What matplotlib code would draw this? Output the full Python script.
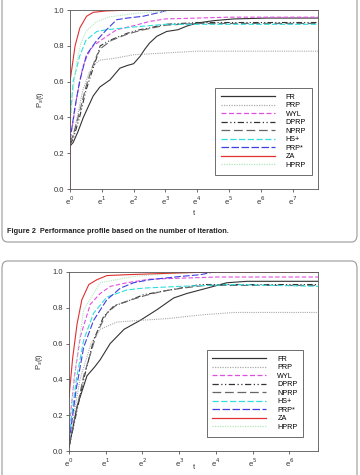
import matplotlib
matplotlib.use("Agg")
import matplotlib.pyplot as plt
from matplotlib.patches import FancyBboxPatch

plt.rcParams['font.family'] = ['Liberation Sans', 'DejaVu Sans']

# ===========================
# Data (x = log t, y = P_s(t))
# ===========================
methods = ['FR', 'PRP', 'WYL', 'DPRP', 'NPRP', 'HS+', 'PRP*', 'ZA', 'HPRP']
xtick_labels_1 = ['e$^{%d}$' % i for i in range(8)]
xtick_labels_2 = ['e$^{%d}$' % i for i in range(7)]
caption = 'Figure 2  Performance profile based on the number of iteration.'

# panel 1
FR1_U = [0, 0.1, 0.25, 0.42, 0.6, 0.73, 0.94, 1.1, 1.26, 1.45, 1.57, 1.8, 2.0, 2.2, 2.35, 2.5, 2.73, 3.04, 3.4, 3.67, 3.99, 4.5, 5.14, 6.2, 7.8]
FR1_P = [0.24, 0.26, 0.32, 0.4, 0.47, 0.52, 0.57, 0.59, 0.61, 0.65, 0.675, 0.69, 0.70, 0.74, 0.78, 0.815, 0.853, 0.88, 0.89, 0.91, 0.927, 0.94, 0.95, 0.955, 0.955]
PRP1_U = [0, 0.1, 0.25, 0.4, 0.6, 0.8, 0.94, 1.4, 2.0, 3.0, 4.0, 5.0, 7.8]
PRP1_P = [0.25, 0.3, 0.42, 0.55, 0.65, 0.70, 0.72, 0.73, 0.75, 0.76, 0.77, 0.77, 0.77]
WYL1_U = [0, 0.1, 0.2, 0.4, 0.55, 0.73, 1.15, 1.47, 2.0, 2.5, 3.0, 4.0, 5.0, 7.8]
WYL1_P = [0.28, 0.38, 0.5, 0.68, 0.75, 0.8, 0.853, 0.89, 0.912, 0.936, 0.95, 0.955, 0.96, 0.96]
DPRP1_U = [0, 0.1, 0.3, 0.5, 0.7, 0.85, 0.95, 1.3, 1.8, 2.2, 2.5, 3.0, 4.0, 7.8]
DPRP1_P = [0.25, 0.28, 0.4, 0.55, 0.66, 0.74, 0.8, 0.834, 0.87, 0.89, 0.9, 0.92, 0.93, 0.93]
NPRP1_U = [0, 0.1, 0.3, 0.5, 0.7, 0.85, 1.0, 1.3, 1.8, 2.2, 2.6, 3.0, 4.0, 7.8]
NPRP1_P = [0.26, 0.3, 0.43, 0.57, 0.68, 0.75, 0.79, 0.83, 0.865, 0.885, 0.9, 0.915, 0.925, 0.925]
HS1_U = [0, 0.1, 0.3, 0.5, 0.84, 1.15, 2.0, 3.0, 7.8]
HS1_P = [0.38, 0.6, 0.74, 0.83, 0.88, 0.89, 0.905, 0.92, 0.92]
PRPS1_U = [0, 0.15, 0.3, 0.52, 0.84, 1.15, 1.47, 1.8, 2.3, 2.73, 3.0, 3.2, 7.8]
PRPS1_P = [0.27, 0.45, 0.6, 0.75, 0.83, 0.89, 0.946, 0.955, 0.965, 0.983, 0.995, 1.0, 1.0]
ZA1_U = [0, 0, 0.16, 0.31, 0.52, 0.73, 1.15, 2.0, 7.8]
ZA1_P = [0.0, 0.6, 0.8, 0.9, 0.965, 0.987, 0.995, 1.0, 1.0]
HPRP1_U = [0, 0.1, 0.2, 0.35, 0.5, 0.8, 1.2, 2.0, 3.0, 3.5, 7.8]
HPRP1_P = [0.35, 0.55, 0.7, 0.82, 0.88, 0.93, 0.96, 0.98, 0.995, 1.0, 1.0]

# panel 2
FR2_U = [0, 0.22, 0.49, 0.7, 0.85, 1.12, 1.5, 1.94, 2.4, 2.85, 3.21, 3.76, 4.3, 4.85, 6.78]
FR2_P = [0.02, 0.25, 0.42, 0.47, 0.51, 0.6, 0.68, 0.73, 0.79, 0.855, 0.88, 0.91, 0.94, 0.948, 0.948]
PRP2_U = [0, 0.3, 0.6, 0.85, 1.3, 1.94, 2.7, 3.58, 4.5, 6.78]
PRP2_P = [0.05, 0.4, 0.6, 0.68, 0.72, 0.73, 0.74, 0.76, 0.774, 0.774]
WYL2_U = [0, 0.15, 0.31, 0.58, 0.85, 1.13, 1.58, 2.2, 3.12, 4.03, 6.78]
WYL2_P = [0.12, 0.42, 0.64, 0.82, 0.88, 0.92, 0.94, 0.96, 0.966, 0.972, 0.972]
DPRP2_U = [0, 0.4, 0.67, 0.94, 1.22, 1.58, 2.03, 2.49, 3.03, 3.58, 6.78]
DPRP2_P = [0.02, 0.4, 0.62, 0.75, 0.81, 0.836, 0.873, 0.89, 0.91, 0.93, 0.93]
NPRP2_U = [0, 0.4, 0.76, 1.03, 1.3, 1.7, 2.1, 2.6, 3.1, 3.7, 6.78]
NPRP2_P = [0.03, 0.42, 0.66, 0.77, 0.817, 0.845, 0.87, 0.895, 0.91, 0.925, 0.925]
HS2_U = [0, 0.2, 0.4, 0.67, 1.03, 1.58, 2.03, 3.03, 4.48, 6.78]
HS2_P = [0.08, 0.4, 0.62, 0.77, 0.86, 0.9, 0.91, 0.92, 0.93, 0.92]
PRPS2_U = [0, 0.2, 0.4, 0.67, 1.03, 1.4, 1.76, 2.2, 3.03, 3.58, 3.94, 6.78]
PRPS2_P = [0.05, 0.35, 0.58, 0.73, 0.845, 0.91, 0.94, 0.957, 0.975, 0.985, 1.0, 1.0]
ZA2_U = [0, 0.1, 0.22, 0.35, 0.54, 0.76, 1.03, 1.58, 3.03, 3.94, 6.78]
ZA2_P = [0.3, 0.52, 0.71, 0.845, 0.93, 0.957, 0.98, 0.985, 0.995, 1.0, 1.0]
HPRP2_U = [0, 0.2, 0.4, 0.85, 1.76, 2.67, 3.58, 6.78]
HPRP2_P = [0.15, 0.5, 0.79, 0.94, 0.975, 0.99, 1.0, 1.0]

# ===========================
# Styles
# ===========================
styles = {
    'FR':   dict(color='#333333', linestyle='-'),
    'PRP':  dict(color='#aaaaaa', linestyle=(0, (1, 1))),
    'WYL':  dict(color='#e050e0', linestyle=(0, (4, 2))),
    'DPRP': dict(color='#333333', linestyle=(0, (5, 2, 1, 2, 1, 2))),
    'NPRP': dict(color='#666666', linestyle=(0, (7, 3))),
    'HS+':  dict(color='#30dede', linestyle=(0, (5, 2))),
    'PRP*': dict(color='#4040e0', linestyle=(0, (6, 2))),
    'ZA':   dict(color='#e03030', linestyle='-'),
    'HPRP': dict(color='#b0e8bc', linestyle=(0, (1, 1))),
}

panel1 = [(FR1_U, FR1_P), (PRP1_U, PRP1_P), (WYL1_U, WYL1_P), (DPRP1_U, DPRP1_P),
          (NPRP1_U, NPRP1_P), (HS1_U, HS1_P), (PRPS1_U, PRPS1_P), (ZA1_U, ZA1_P),
          (HPRP1_U, HPRP1_P)]
panel2 = [(FR2_U, FR2_P), (PRP2_U, PRP2_P), (WYL2_U, WYL2_P), (DPRP2_U, DPRP2_P),
          (NPRP2_U, NPRP2_P), (HS2_U, HS2_P), (PRPS2_U, PRPS2_P), (ZA2_U, ZA2_P),
          (HPRP2_U, HPRP2_P)]

W, H = 360, 475
fig = plt.figure(figsize=(W / 100, H / 100), dpi=100)

# rounded frames around each figure
for y0, y1 in [(-20, 242), (261, 500)]:
    box = FancyBboxPatch((2 / W, 1 - y1 / H), 355 / W, (y1 - y0) / H,
                         boxstyle='round,pad=0,rounding_size=0.015',
                         transform=fig.transFigure, facecolor='none',
                         edgecolor='#9a9a9a', linewidth=0.8)
    fig.patches.append(box)


def draw_panel(rect, series, xmax, xlabels, legend_right, xlabel_y):
    ax = fig.add_axes(rect)
    order = [0, 1, 2, 3, 4, 5, 6, 8, 7]
    handles = {}
    for i in order:
        u, p = series[i]
        name = methods[i]
        ln, = ax.plot(u, p, linewidth=0.8, label=name, **styles[name])
        handles[name] = ln
    ax.set_xlim(0, xmax)
    ax.set_ylim(0, 1)
    ax.set_xticks(range(len(xlabels)))
    ax.set_xticklabels(xlabels)
    ax.set_yticks([0, 0.2, 0.4, 0.6, 0.8, 1.0])
    ax.set_yticklabels(['0.0', '0.2', '0.4', '0.6', '0.8', '1.0'])
    ax.tick_params(labelsize=5.5, length=2, width=0.5, pad=2, colors='#333333')
    for s in ax.spines.values():
        s.set_linewidth(0.6)
        s.set_color('#555555')
    ax.set_xlabel('t', fontsize=5.5, color='#333333')
    ax.xaxis.set_label_coords(0.5, xlabel_y)
    ax.set_ylabel('P$_s$(t)', fontsize=5.5, labelpad=6, color='#333333')
    leg = ax.legend([handles[m] for m in methods], methods, loc='lower right',
                    bbox_to_anchor=(legend_right, 0.06), fontsize=5.2,
                    handlelength=7.5, handletextpad=1.5, labelspacing=0.2,
                    borderpad=0.8, fancybox=False, edgecolor='#555555',
                    framealpha=1)
    leg.get_frame().set_linewidth(0.6)
    for h in leg.get_lines():
        h.set_linewidth(0.9)
    return ax


draw_panel([70 / W, 1 - 189 / H, 248 / W, 179 / H], panel1, 7.8, xtick_labels_1, 0.99, -0.115)
draw_panel([69 / W, 1 - 451 / H, 249 / W, 179 / H], panel2, 6.78, xtick_labels_2, 0.956, -0.075)

fig.text(7 / W, 1 - 231 / H, caption, fontsize=5.3, fontweight='bold',
         color='#222222', va='center', ha='left')

fig.savefig('out.png', dpi=100)
